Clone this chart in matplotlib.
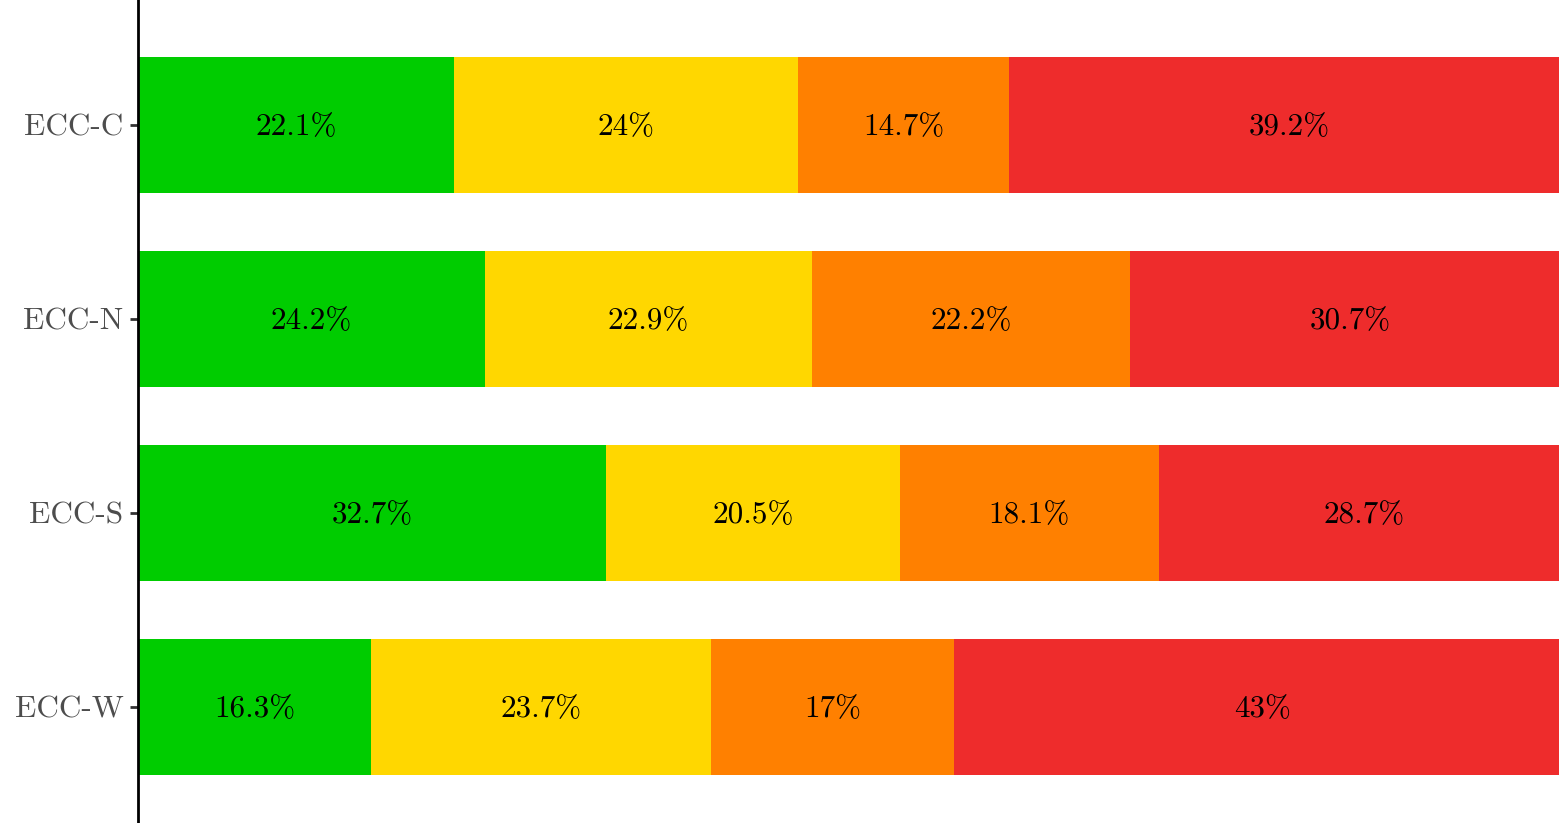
import numpy as np
import matplotlib
matplotlib.use("Agg")
import matplotlib.pyplot as plt

# data (top row first)
regions = ["ECC-C", "ECC-N", "ECC-S", "ECC-W"]
cat1 = [22.1, 24.2, 32.7, 16.3]
cat2 = [24.0, 22.9, 20.5, 23.7]
cat3 = [14.7, 22.2, 18.1, 17.0]
cat4 = [39.2, 30.7, 28.7, 43.0]
labels1 = ["22.1%", "24.2%", "32.7%", "16.3%"]
labels2 = ["24%", "22.9%", "20.5%", "23.7%"]
labels3 = ["14.7%", "22.2%", "18.1%", "17%"]
labels4 = ["39.2%", "30.7%", "28.7%", "43%"]

colors = ["#00CC00", "#FFD700", "#FF8000", "#EE2C2C"]

plt.rcParams["font.family"] = ["cmr10", "DejaVu Serif"]
plt.rcParams["axes.unicode_minus"] = False

fig = plt.figure(figsize=(15.59, 8.23), dpi=100)
# the original plot runs a little past the right edge of the picture
ax = fig.add_axes([138 / 1559, 0, 1432 / 1559, 1])

ypos = np.arange(len(regions))[::-1]
series = [cat1, cat2, cat3, cat4]
texts = [labels1, labels2, labels3, labels4]

left = np.zeros(len(regions))
for vals, labs, col in zip(series, texts, colors):
    vals = np.array(vals)
    ax.barh(ypos, vals, left=left, height=0.7, color=col, linewidth=0)
    for y, l, v, t in zip(ypos, left, vals, labs):
        ax.text(l + v / 2, y - 0.01, t, ha="center", va="center", fontsize=22.4, color="black")
    left = left + vals

ax.set_xlim(0, 100)
ax.set_ylim(-0.598, 3.644)
ax.set_yticks(ypos)
ax.set_yticklabels(regions, fontsize=22.5, color="#4D4D4D")
ax.set_xticks([])

for s in ["top", "right", "bottom"]:
    ax.spines[s].set_visible(False)
ax.spines["left"].set_linewidth(2.0)
ax.spines["left"].set_color("black")
ax.tick_params(axis="y", length=5.5, width=2.0, color="#333333", pad=5)

fig.savefig("out.png", dpi=100)
